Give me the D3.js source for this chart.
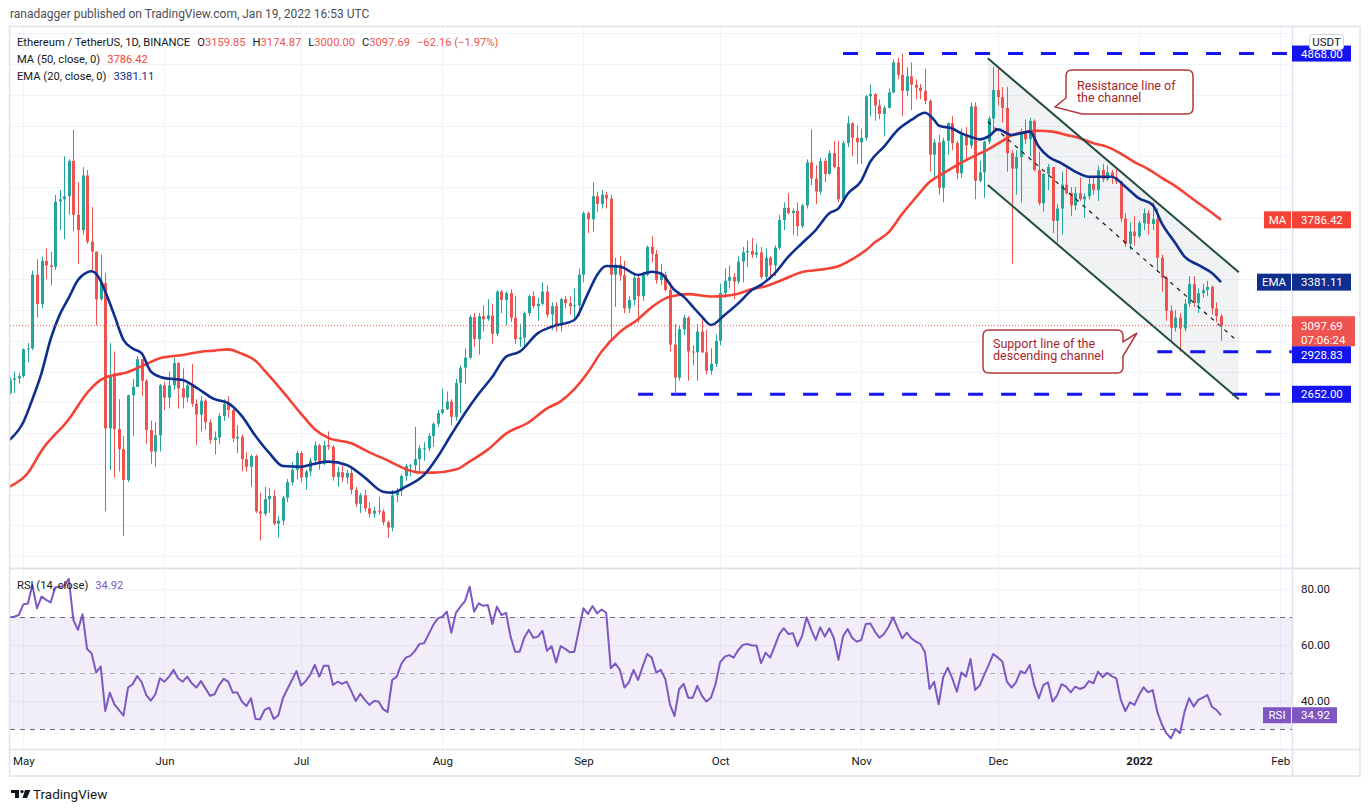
<!DOCTYPE html>
<html><head><meta charset="utf-8">
<script src="https://cdn.jsdelivr.net/npm/d3@7"></script>
<style>
html,body{margin:0;padding:0;background:#fff;}
svg{display:block;}
text{font-family:Roboto,"Noto Sans",sans-serif;}
</style></head>
<body>
<svg id="chart" width="1370" height="812"></svg>
<script>
// ---------------- DATA (daily ETH/USDT, 2021-04-28 .. 2022-01-19) ----------------
const firstCandleDate = "2021-04-28";
const firstOpen = 2660;
const closes = [2745,2755,2770,
2945,2950,3430,3240,3520,3490,3480,3905,3920,3940,4170,3820,3720,4075,3645,3580,3270,3375,2430,2770,2425,2295,2095,2645,2700,2880,2740,2420,2280,2385,2710,
2630,2710,2855,2690,2630,2710,2590,2520,2610,2470,2355,2370,2510,2590,2550,2365,2375,2230,2180,2250,1890,1875,1970,1990,1810,1830,1980,2080,2160,2270,
2110,2150,2220,2320,2200,2320,2310,2115,2145,2110,2140,2030,1940,1995,1910,1875,1895,1890,1820,1785,1995,2025,2120,2185,2190,2230,2300,2300,2380,2460,2530,
2555,2605,2505,2725,2825,2890,3155,3010,3160,3140,3165,3045,3320,3265,3310,3150,3010,3020,3180,3290,3225,3240,3320,3170,3225,3100,3270,3245,3225,3230,3430,
3830,3790,3940,3890,3950,3925,3430,3495,3425,3210,3265,3410,3290,3430,3610,3565,3395,3430,3330,2975,2760,3075,3150,2930,2925,3060,2925,2805,2850,3000,
3310,3390,3415,3385,3515,3575,3585,3560,3575,3415,3540,3490,3605,3785,3865,3830,3845,3745,3880,4160,4055,3970,4170,4085,4220,4130,3920,4285,4415,4320,4290,
4320,4590,4605,4530,4475,4515,4615,4810,4730,4625,4720,4665,4645,4625,4560,4210,4290,3995,4300,4415,4285,4090,4340,4270,4525,4040,4095,4295,4445,4630,
4585,4515,4220,4120,4195,4350,4310,4430,4110,3895,4085,4130,3780,3860,4015,3960,3880,3960,3920,3940,4020,3980,4110,4050,4095,4065,4035,3795,3630,3710,3680,
3765,3830,3760,3790,3540,3410,3195,3085,3150,3080,3240,3370,3245,3310,3330,3350,3210,3159.85,3097.69];
const highs = [2760,2800,2790,
2950,2985,3456,3530,3545,3600,3580,3950,3980,4200,4180,4372,4030,4130,4110,3870,3580,3560,3440,2985,2930,2620,2380,2650,2750,2900,2880,2750,2480,2470,2720,
2730,2800,2890,2860,2820,2740,2850,2620,2640,2620,2490,2410,2530,2620,2640,2560,2450,2390,2275,2260,2260,2010,2050,2040,2030,1860,1990,2100,2210,2285,
2280,2160,2240,2345,2330,2350,2410,2320,2180,2190,2160,2170,2050,2010,2030,1950,1920,1985,1905,1830,2030,2040,2130,2200,2200,2440,2320,2340,2400,2470,2550,
2690,2670,2620,2750,2840,2950,3170,3180,3180,3230,3270,3240,3330,3330,3320,3335,3290,3110,3190,3300,3320,3280,3380,3360,3250,3250,3280,3290,3290,3340,3470,
3840,3840,4030,3970,3980,3970,3950,3540,3550,3520,3290,3440,3420,3450,3620,3680,3590,3500,3450,3360,3110,3100,3170,3160,2970,3110,3160,3070,2950,3040,
3370,3470,3490,3440,3550,3610,3650,3670,3630,3610,3600,3550,3620,3820,3900,3960,3860,3900,3890,4180,4375,4140,4190,4190,4240,4300,4300,4300,4460,4420,4400,
4380,4600,4665,4610,4570,4530,4640,4830,4840,4868,4780,4810,4700,4670,4770,4570,4310,4340,4320,4420,4460,4300,4380,4390,4550,4550,4170,4300,4460,4780,
4780,4650,4650,4240,4240,4380,4440,4450,4440,4230,4090,4150,4130,3890,4100,4120,4000,4000,4060,3960,4060,4070,4140,4150,4140,4110,4130,4040,3830,3770,3810,
3780,3860,3850,3900,3860,3560,3420,3230,3200,3180,3270,3420,3420,3340,3370,3390,3360,3250,3174.87];
const lows = [2650,2660,2720,
2760,2860,2940,3150,3210,3400,3360,3460,3720,3660,3820,3710,3500,3690,3630,3450,3100,3260,1890,2160,2110,2150,1730,2080,2380,2700,2640,2330,2200,2180,2280,
2550,2560,2680,2560,2560,2600,2570,2320,2410,2420,2330,2260,2330,2480,2500,2340,2270,2150,2150,2050,1880,1700,1860,1880,1800,1720,1800,1950,2060,2100,
2080,2030,2120,2190,2160,2190,2290,2090,2050,2080,2070,2000,1920,1880,1890,1850,1850,1870,1800,1718,1760,1950,1990,2090,2120,2150,2150,2220,2280,2310,2440,
2520,2550,2450,2480,2530,2720,2880,2960,2910,3060,3130,2980,3030,3180,3100,3120,2980,2960,2960,3160,3210,3130,3230,3150,3070,3060,3060,3210,3170,3150,3160,
3380,3700,3710,3840,3860,3860,3000,3220,3390,3180,3180,3230,3120,3260,3420,3510,3370,3360,3320,2930,2652,2740,3040,2740,2840,2740,2920,2780,2780,2830,
2970,3280,3340,3270,3370,3380,3480,3540,3540,3400,3390,3400,3420,3590,3720,3820,3690,3680,3730,3860,4010,3890,3950,4030,4080,4120,3900,3900,4260,4200,4150,
4150,4300,4460,4430,4440,4330,4510,4610,4700,4460,4590,4500,4570,4570,4540,4100,4060,3950,3900,4210,4240,4050,4060,4180,4250,3920,4030,3930,4280,4350,
4530,4420,4100,3500,3950,3900,4280,4200,4100,3880,3840,3980,3700,3640,3690,3950,3810,3850,3910,3800,3920,3950,3910,4030,4040,4020,4020,3770,3610,3590,3620,
3670,3720,3690,3720,3450,3320,3130,3000,3060,2930,3060,3220,3220,3180,3280,3290,3170,3120,3000];
const rsiValues = [69.9,70.1,70.7,
74.5,74.8,81.4,73.1,77.3,76.1,75.2,80.5,80.8,81.1,83.6,68.9,65.4,71.0,58.6,57.0,50.2,52.3,36.4,43.0,38.8,36.8,34.8,44.8,46.0,48.9,46.7,42.1,40.1,42.4,48.1,
46.9,48.7,51.1,48.1,46.9,48.7,46.3,44.8,47.1,44.5,41.9,42.4,45.7,47.9,46.9,43.0,43.0,39.8,38.2,41.0,33.6,33.5,36.8,37.6,33.6,34.8,41.0,44.3,47.5,50.7,
45.5,47.1,49.3,52.9,48.7,52.6,52.6,45.7,46.9,46.1,46.9,43.6,40.0,42.6,40.4,38.6,40.0,39.8,37.1,36.0,47.5,48.7,53.2,55.5,56.1,57.9,60.4,60.6,63.8,67.1,69.5,
70.1,71.9,64.4,71.5,73.7,75.7,80.8,71.9,74.9,74.0,74.3,67.5,73.7,70.7,71.5,63.0,57.6,57.6,62.6,65.4,62.6,63.0,65.1,57.9,59.6,53.8,59.6,58.6,57.4,57.6,65.4,
73.1,71.1,73.9,71.3,72.7,71.5,51.7,53.4,51.1,44.8,46.7,51.1,47.5,52.3,56.8,55.5,50.1,51.1,47.7,38.8,34.6,44.2,46.1,41.2,41.2,45.4,41.9,39.8,41.2,46.0,
53.8,55.8,56.4,55.5,58.2,60.0,60.4,59.8,59.8,53.5,57.3,55.5,59.6,63.9,66.0,63.9,64.2,59.6,63.2,69.9,65.6,61.8,66.3,63.0,66.0,62.4,54.7,63.0,65.7,62.6,61.2,
61.8,67.5,67.7,64.8,62.6,63.9,66.5,69.9,66.0,62.4,64.4,62.4,61.2,60.4,57.4,44.3,46.9,38.8,48.5,51.9,48.1,43.3,50.2,48.7,55.0,43.9,45.5,49.3,52.9,56.8,
55.5,54.0,46.9,44.8,46.7,50.7,49.9,52.9,45.5,41.0,45.7,46.7,39.8,41.9,46.0,45.1,43.1,45.1,44.3,44.9,47.1,46.3,50.5,48.5,50.1,48.9,48.1,40.4,36.4,39.5,38.6,
42.1,44.9,43.1,43.9,36.2,31.7,28.5,26.7,30.0,28.5,36.2,41.0,38.0,40.4,41.2,42.1,38.0,36.8,34.92];
// [days after 2021-05-01, value] read from the plotted moving averages
const ma50Points = [[-3,2051],[1,2140],[4,2285],[10,2490],[14,2660],[17,2745],[20,2778],[22,2788],[26,2835],[30,2886],
[35,2907],[39,2929],[42,2936],[45,2944],[48,2915],[51,2870],[53,2805],[57,2669],[61,2525],[64,2425],
[67,2368],[72,2333],[76,2274],[80,2222],[84,2165],[87,2143],[90,2142],[95,2162],[98,2214],[102,2292],
[106,2396],[111,2470],[115,2560],[118,2606],[121,2685],[124,2795],[127,2930],[131,3057],[135,3140],[138,3218],
[141,3276],[144,3298],[146,3303],[151,3288],[154,3292],[157,3306],[160,3336],[163,3355],[167,3400],[171,3447],
[176,3466],[179,3484],[182,3530],[185,3588],[187,3640],[190,3705],[193,3825],[196,3932],[199,4033],[202,4089],
[205,4143],[208,4190],[212,4246],[215,4300],[217,4336],[220,4358],[223,4366],[226,4360],[229,4339],[232,4317],
[235,4284],[238,4261],[241,4217],[244,4162],[247,4117],[250,4060],[253,4006],[256,3940],[258,3896],[261,3832],[263,3786.42]];
const ema20Points = [[-3,2355],[0,2470],[2,2620],[4,2790],[6,3010],[8,3170],[10,3280],[12,3395],[14,3445],[15,3452],
[17,3390],[18,3320],[20,3165],[22,3005],[24,2950],[26,2918],[28,2800],[31,2757],[35,2745],[38,2695],
[42,2620],[45,2595],[48,2510],[51,2380],[54,2270],[57,2185],[61,2180],[64,2200],[67,2214],[71,2192],
[75,2110],[79,2018],[81,2012],[84,2051],[88,2127],[91,2246],[94,2390],[97,2530],[100,2655],[103,2766],
[106,2896],[109,2929],[113,3050],[116,3091],[121,3135],[124,3308],[126,3428],[128,3486],[131,3482],[135,3428],
[138,3449],[140,3438],[143,3330],[145,3287],[147,3222],[149,3157],[151,3102],[154,3168],[157,3243],[160,3330],
[162,3363],[165,3438],[168,3547],[171,3634],[174,3720],[177,3829],[179,3861],[181,3955],[184,4040],[186,4165],
[189,4262],[192,4371],[195,4436],[198,4483],[200,4436],[201,4400],[204,4380],[206,4349],[208,4327],[210,4310],
[212,4330],[214,4375],[217,4338],[219,4349],[221,4360],[223,4262],[225,4200],[228,4154],[231,4100],[234,4067],
[237,4067],[239,4067],[242,4002],[245,3926],[248,3883],[250,3764],[253,3634],[255,3547],[258,3493],[261,3440],[263,3381.11]];
const priceTicks = [1600,1800,2000,2200,2400,2600,2800,3000,3200,3400,3600,3800,4000,4200,4400,4600,4800,5000];
const rsiTicks = [40,60,80];
const rsiLevels = [70,50,30];
// horizontal levels drawn by the author: [price, start date]
const levelLines = [[4868.00,"2021-10-28"],[2928.83,"2022-01-05"],[2652.00,"2021-09-13"]];
// descending channel: [date, upper price, lower price]
const channelDates = ["2021-11-28T19:00:00Z","2022-01-22T22:00:00Z"];
const channelUpper = [4837, 3445];
const channelLower = [4013, 2619];
const countdown = "07:06:24";
const rsiLabel = 34.92;

// ---------------- LAYOUT ----------------
const svg = d3.select("#chart");
const PL = 10, PR = 1292, TOP = 27, MAINB = 568, RSIT = 569, RSIB = 749, AXB = 776, RIGHT = 1360;
const dayMs = 864e5;
const may1 = Date.UTC(2021,4,1);
const x = d3.scaleUtc().domain([new Date(may1), new Date(Date.UTC(2022,1,1))]).range([23.3, 1280.2]);
const y = d3.scaleLinear().domain([1600, 4800]).range([556, 64]);
const yr = d3.scaleLinear().domain([30, 70]).range([729, 617]);
const dayToDate = d => new Date(may1 + d * dayMs);
const t0 = Date.parse(firstCandleDate + "T00:00:00Z");

const UP = "#26a69a", DOWN = "#ef5350", MAC = "#f44336", EMAC = "#0f2f8f", BLUE = "#1414f0", RSIC = "#7e57c2", TXT = "#131722";
const AXF = "'Noto Sans',sans-serif";

const candles = closes.map((c, i) => ({date: new Date(t0 + i * dayMs), o: i ? closes[i-1] : firstOpen, h: highs[i], l: lows[i], c}));
const last = candles[candles.length-1];
const maLast = ma50Points[ma50Points.length-1][1], emaLast = ema20Points[ema20Points.length-1][1];

const defs = svg.append("defs");
defs.append("clipPath").attr("id","mainClip").append("rect").attr("x",PL).attr("y",TOP).attr("width",PR-PL).attr("height",MAINB-TOP);
defs.append("clipPath").attr("id","rsiClip").append("rect").attr("x",PL).attr("y",RSIT).attr("width",PR-PL).attr("height",RSIB-RSIT);
defs.append("clipPath").attr("id","axisClip").append("rect").attr("x",PR).attr("y",TOP).attr("width",RIGHT-PR).attr("height",MAINB-TOP);

// header
svg.append("text").attr("x",10).attr("y",18).attr("font-size",12).attr("fill","#4a4d57")
  .text("ranadagger published on TradingView.com, Jan 19, 2022 16:53 UTC");

// grid
const monthTicks = x.ticks(d3.utcMonth.every(1));
const grid = svg.append("g").attr("stroke","#f0f3fa").attr("stroke-width",1);
grid.selectAll("line.v").data(monthTicks).join("line")
  .attr("x1",d=>Math.round(x(d))+0.5).attr("x2",d=>Math.round(x(d))+0.5).attr("y1",TOP).attr("y2",RSIB);
grid.append("g").attr("clip-path","url(#mainClip)").selectAll("line").data(priceTicks).join("line")
  .attr("x1",PL).attr("x2",PR).attr("y1",d=>Math.round(y(d))+0.5).attr("y2",d=>Math.round(y(d))+0.5);
grid.selectAll("line.r").data(rsiTicks).join("line")
  .attr("x1",PL).attr("x2",PR).attr("y1",d=>Math.round(yr(d))+0.5).attr("y2",d=>Math.round(yr(d))+0.5);

// main panel content
const main = svg.append("g").attr("clip-path","url(#mainClip)");
const cd = channelDates.map(d => new Date(d));
main.append("path")
  .attr("d", d3.line()([[x(cd[0]),y(channelUpper[0])],[x(cd[1]),y(channelUpper[1])],[x(cd[1]),y(channelLower[1])],[x(cd[0]),y(channelLower[0])]]) + "Z")
  .attr("fill","rgba(120,123,134,0.1)");

// level lines
main.selectAll("line.lvl").data(levelLines).join("line")
  .attr("x1",d=>x(new Date(d[1]))).attr("x2",PR).attr("y1",d=>y(d[0])).attr("y2",d=>y(d[0]))
  .attr("stroke",BLUE).attr("stroke-width",3).attr("stroke-dasharray","15,18");

// candles
const cg = main.append("g");
cg.selectAll("line").data(candles).join("line")
  .attr("x1",d=>Math.round(x(d.date))+0.5).attr("x2",d=>Math.round(x(d.date))+0.5)
  .attr("y1",d=>y(Math.max(d.h,d.o,d.c))).attr("y2",d=>y(Math.min(d.l,d.o,d.c)))
  .attr("stroke",d=>d.c>=d.o?UP:DOWN).attr("stroke-width",1);
cg.selectAll("rect").data(candles).join("rect")
  .attr("x",d=>Math.round(x(d.date))-1).attr("width",3)
  .attr("y",d=>y(Math.max(d.o,d.c))).attr("height",d=>Math.max(1,Math.abs(y(d.o)-y(d.c))))
  .attr("fill",d=>d.c>=d.o?UP:DOWN);

// moving averages
const avgLine = d3.line().x(d=>x(dayToDate(d[0]))).y(d=>y(d[1])).curve(d3.curveMonotoneX);
main.append("path").attr("d",avgLine(ma50Points)).attr("fill","none").attr("stroke",MAC).attr("stroke-width",2.6).attr("stroke-linejoin","round");
main.append("path").attr("d",avgLine(ema20Points)).attr("fill","none").attr("stroke",EMAC).attr("stroke-width",2.6).attr("stroke-linejoin","round");

// channel lines
const chC = "#244c43";
main.append("line").attr("x1",x(cd[0])).attr("y1",y(channelUpper[0])).attr("x2",x(cd[1])).attr("y2",y(channelUpper[1])).attr("stroke",chC).attr("stroke-width",2);
main.append("line").attr("x1",x(cd[0])).attr("y1",y(channelLower[0])).attr("x2",x(cd[1])).attr("y2",y(channelLower[1])).attr("stroke",chC).attr("stroke-width",2);
main.append("line").attr("x1",x(cd[0])).attr("y1",y((channelUpper[0]+channelLower[0])/2))
  .attr("x2",x(cd[1])-4).attr("y2",y((channelUpper[1]+channelLower[1])/2)+3)
  .attr("stroke","#131722").attr("stroke-width",1.2).attr("stroke-dasharray","4,5");

// last price dotted line
main.append("line").attr("x1",PL).attr("x2",PR).attr("y1",y(last.c)).attr("y2",y(last.c))
  .attr("stroke",DOWN).attr("stroke-width",1).attr("stroke-dasharray","1,2");

// callouts
const calloutStroke = "#b2383c", calloutText = "#a3262c";
main.append("path")
  .attr("d","M1072,70 H1187 Q1193,70 1193,76 V108 Q1193,114 1187,114 H1082 L1055,107 L1066,98 V76 Q1066,70 1072,70 Z")
  .attr("fill","#fff").attr("stroke",calloutStroke).attr("stroke-width",1.5);
const t1 = main.append("text").attr("font-size",12.5).attr("fill",calloutText).attr("font-family",AXF);
t1.append("tspan").attr("x",1077).attr("y",90).text("Resistance line of");
t1.append("tspan").attr("x",1077).attr("y",102).text("the channel");
main.append("path")
  .attr("d","M989,330 H1117 Q1123,330 1123,336 V342 L1137,333 L1123,356 V367 Q1123,373 1117,373 H989 Q983,373 983,367 V336 Q983,330 989,330 Z")
  .attr("fill","#fff").attr("stroke",calloutStroke).attr("stroke-width",1.5);
const t2 = main.append("text").attr("font-size",12.5).attr("fill",calloutText).attr("font-family",AXF);
t2.append("tspan").attr("x",993).attr("y",348).text("Support line of the");
t2.append("tspan").attr("x",993).attr("y",360).text("descending channel");

// legend
const fmt = d3.format(".2f");
const minus = s => s.replace("-", "\u2212");
const LGF = 11.2;
const lg = svg.append("text").attr("x",17).attr("y",46).attr("font-size",LGF).attr("fill",TXT);
lg.append("tspan").text("Ethereum / TetherUS, 1D, BINANCE");
[["O",last.o],["H",last.h],["L",last.l],["C",last.c]].forEach((p,i)=>{
  lg.append("tspan").attr("dx", 7).text(p[0]);
  lg.append("tspan").attr("fill",DOWN).text(fmt(p[1]));
});
const chg = last.c - last.o;
lg.append("tspan").attr("dx",7).attr("fill",DOWN).text(minus(fmt(chg)) + " (" + minus(fmt(chg/last.o*100)) + "%)");
const lg2 = svg.append("text").attr("x",17).attr("y",63).attr("font-size",LGF).attr("fill",TXT);
lg2.append("tspan").text("MA (50, close, 0)");
lg2.append("tspan").attr("dx",7).attr("fill",MAC).text(fmt(maLast));
const lg3 = svg.append("text").attr("x",17).attr("y",80).attr("font-size",LGF).attr("fill",TXT);
lg3.append("tspan").text("EMA (20, close, 0)");
lg3.append("tspan").attr("dx",7).attr("fill",EMAC).text(fmt(emaLast));

// RSI panel
const rsi = svg.append("g").attr("clip-path","url(#rsiClip)");
rsi.append("rect").attr("x",PL).attr("width",PR-PL).attr("y",yr(70)).attr("height",yr(30)-yr(70)).attr("fill","rgba(126,87,194,0.1)");
rsi.selectAll("line.lv").data(rsiLevels).join("line")
  .attr("x1",PL).attr("x2",PR).attr("y1",d=>Math.round(yr(d))+0.5).attr("y2",d=>Math.round(yr(d))+0.5)
  .attr("stroke",d=>d===50?"#a9a6b8":"#6f6a80").attr("stroke-width",1).attr("stroke-dasharray","5,5");
const rsiLine = d3.line().x((d,i)=>x(new Date(t0+i*dayMs))).y(d=>yr(d));
rsi.append("path").attr("d",rsiLine(rsiValues)).attr("fill","none").attr("stroke",RSIC).attr("stroke-width",2).attr("stroke-linejoin","round");
const rl = svg.append("text").attr("x",17).attr("y",589).attr("font-size",LGF).attr("fill",TXT);
rl.append("tspan").text("RSI (14, close)");
rl.append("tspan").attr("dx",7).attr("fill",RSIC).text(fmt(rsiValues[rsiValues.length-1]));

// frame / separators
const fr = svg.append("g").attr("stroke","#e0e3eb").attr("fill","none");
fr.append("rect").attr("x",PL-0.5).attr("y",TOP-0.5).attr("width",RIGHT-PL+0.5).attr("height",AXB-TOP+0.5).attr("stroke-width",1.5);
fr.append("line").attr("x1",PL).attr("x2",RIGHT).attr("y1",MAINB+0.5).attr("y2",MAINB+0.5).attr("stroke-width",2);
fr.append("line").attr("x1",PL).attr("x2",RIGHT).attr("y1",RSIB+0.5).attr("y2",RSIB+0.5).attr("stroke-width",1.5);
fr.append("line").attr("x1",PR+0.5).attr("x2",PR+0.5).attr("y1",TOP).attr("y2",AXB).attr("stroke-width",1.5);

// label boxes on the price scale (vertical ranges) – tick labels fully covered by them are hidden, as in the original
const lastTop = y(last.c) - 9.5;
const boxes = [
  [y(maLast)-8.5, y(maLast)+8.5],
  [y(emaLast)-8.5, y(emaLast)+8.5],
  [lastTop, lastTop+30]
];
const covered = v => boxes.some(b => y(v) > b[0]+1 && y(v) < b[1]-1);

// price axis
const yAxis = svg.append("g").attr("clip-path","url(#axisClip)").attr("transform",`translate(${PR},0)`)
  .call(d3.axisRight(y).tickValues(priceTicks.filter(v=>!covered(v))).tickFormat(fmt).tickSize(0).tickPadding(9));
yAxis.select(".domain").remove();
yAxis.selectAll("text").attr("font-size",11.5).attr("fill",TXT).attr("font-family",AXF);

const rAxis = svg.append("g").attr("transform",`translate(${PR},0)`)
  .call(d3.axisRight(yr).tickValues(rsiTicks).tickFormat(fmt).tickSize(0).tickPadding(9));
rAxis.select(".domain").remove();
rAxis.selectAll("text").attr("font-size",11.5).attr("fill",TXT).attr("font-family",AXF);

// time axis
const xAxis = svg.append("g").attr("transform",`translate(0,${RSIB+8})`)
  .call(d3.axisBottom(x).tickValues(monthTicks).tickSize(0).tickPadding(0)
    .tickFormat(d => d.getUTCMonth()===0 ? d3.utcFormat("%Y")(d) : d3.utcFormat("%b")(d)));
xAxis.select(".domain").remove();
xAxis.selectAll("text").attr("font-size",11.5).attr("fill",TXT).attr("dy","0.71em")
  .attr("font-family",AXF)
  .attr("font-weight",d=>d.getUTCMonth()===0?700:400);

// price-axis tags
function tagBox(yc, txt, fill, w, h){
  const g = svg.append("g");
  g.append("rect").attr("x",PR).attr("y",yc-h/2).attr("width",w).attr("height",h).attr("fill",fill);
  g.append("text").attr("x",PR+9).attr("y",yc).attr("dy","0.35em").attr("font-size",11.5).attr("font-family",AXF).attr("fill","#fff").text(txt);
}
function nameBox(yc, txt, fill, w, h){
  svg.append("rect").attr("x",PR-w).attr("y",yc-h/2).attr("width",w-1).attr("height",h).attr("fill",fill);
  svg.append("text").attr("x",PR-w/2-0.5).attr("y",yc).attr("dy","0.35em").attr("text-anchor","middle").attr("font-size",11.5).attr("font-family",AXF).attr("fill","#fff").text(txt);
}
tagBox(y(levelLines[0][0]), fmt(levelLines[0][0]), BLUE, 59, 16);
// USDT unit label
svg.append("rect").attr("x",1309.5).attr("y",34.5).attr("width",34).attr("height",15).attr("rx",3).attr("fill","#fff").attr("stroke","#d1d4dc");
svg.append("text").attr("x",1326.5).attr("y",42).attr("dy","0.35em").attr("text-anchor","middle").attr("font-size",11.5).attr("font-family",AXF).attr("fill",TXT).text("USDT");

nameBox(y(maLast), "MA", MAC, 28, 17); tagBox(y(maLast), fmt(maLast), MAC, 59, 17);
nameBox(y(emaLast), "EMA", EMAC, 35, 17); tagBox(y(emaLast), fmt(emaLast), EMAC, 59, 17);
// last price + countdown
const lp = svg.append("g");
lp.append("rect").attr("x",PR).attr("y",lastTop).attr("width",63).attr("height",30).attr("fill",DOWN);
lp.append("text").attr("x",PR+9).attr("y",y(last.c)).attr("dy","0.35em").attr("font-size",11.5).attr("font-family",AXF).attr("fill","#fff").text(fmt(last.c));
lp.append("text").attr("x",PR+9).attr("y",y(last.c)+14).attr("dy","0.35em").attr("font-size",11.5).attr("font-family",AXF).attr("fill","#fff").text(countdown);
tagBox(Math.max(y(levelLines[1][0]), lastTop+30+8.5), fmt(levelLines[1][0]), BLUE, 59, 17);
tagBox(y(levelLines[2][0]), fmt(levelLines[2][0]), BLUE, 59, 17);
// RSI tag
nameBox(yr(rsiLabel), "RSI", RSIC, 29, 16); tagBox(yr(rsiLabel), fmt(rsiLabel), RSIC, 45, 16);

// TradingView logo
const logo = svg.append("g").attr("fill",TXT);
logo.append("rect").attr("x",11).attr("y",790).attr("width",8).attr("height",3);
logo.append("rect").attr("x",15).attr("y",790).attr("width",4).attr("height",8);
logo.append("circle").attr("cx",22).attr("cy",791.6).attr("r",1.7);
logo.append("path").attr("d","M25,790 H30.5 L27,798 H22.5 Z");
svg.append("text").attr("x",33).attr("y",799).attr("font-size",13.5).attr("fill",TXT).text("TradingView");
</script>
</body></html>
